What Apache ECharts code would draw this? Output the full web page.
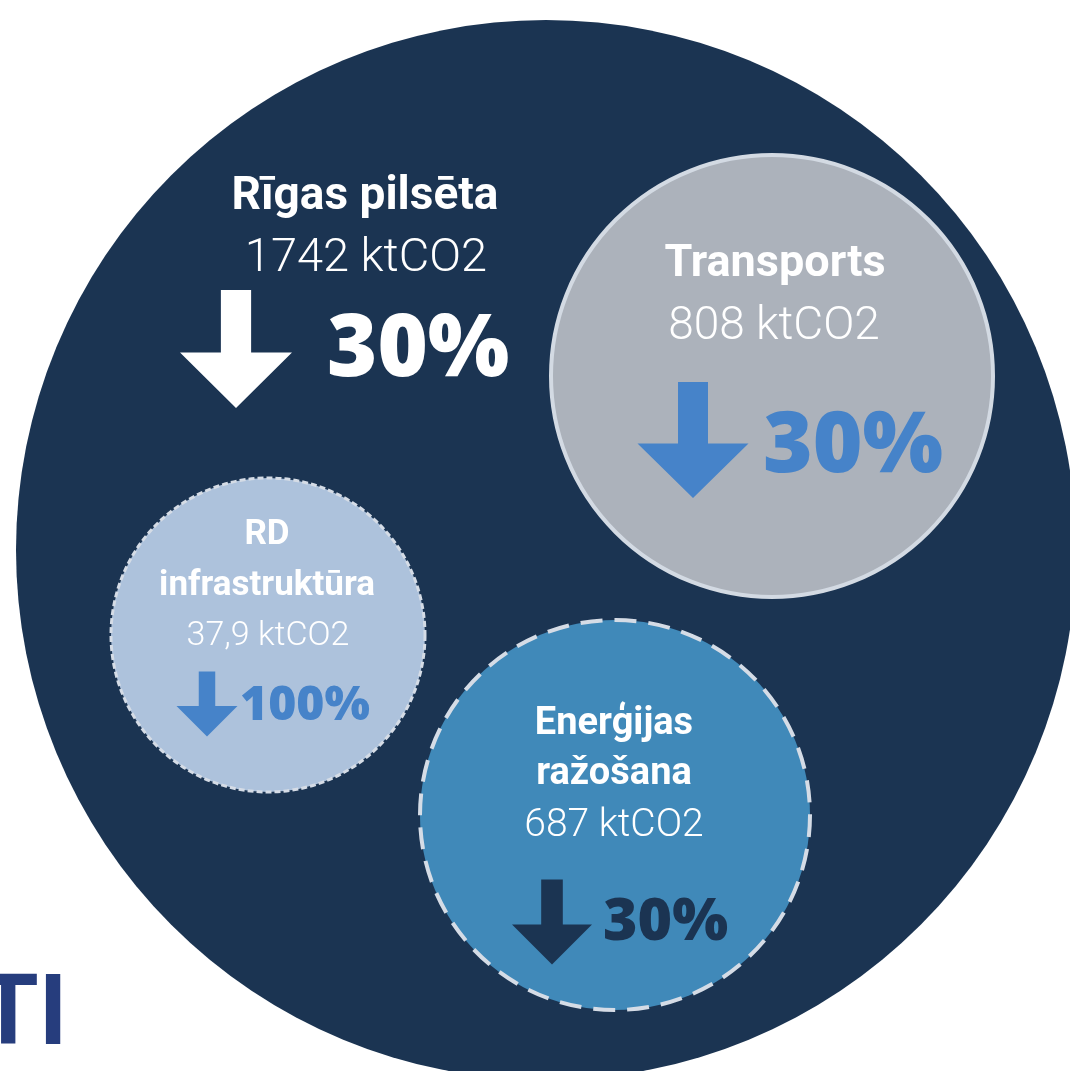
<!DOCTYPE html>
<html>
<head>
<meta charset="utf-8">
<script src="https://cdn.jsdelivr.net/npm/echarts@6/dist/echarts.min.js"></script>
<style>
    html, body { margin: 0; padding: 0; background: #ffffff; }
    #main { width: 1070px; height: 1071px; }
</style>
</head>
<body>
<div id="main"></div>
<script>
// dati
var sectors = ['Rīgas pilsēta', 'Transports', 'RD\ninfrastruktūra', 'Enerģijas\nražošana']
var emissions = [1742, 808, 37.9, 687]
var reductions = [30, 30, 100, 30]
var unit = 'ktCO2'

// izkārtojums (pikseļi uz 1070 x 1071 audekla)
var centers = [[546, 550], [772, 376], [268, 635], [615, 815]]
var radii = [530, 221, 157, 195]
var fills = ['#1b3452', '#acb2bb', '#adc2dc', '#4089b9']
var borders = [null, '#d3dae3', '#d5dce6', '#d5dce6']
var borderTypes = ['solid', 'solid', [6, 3], [22, 12]]
var borderWidths = [0, 4, 3, 4]
var accents = ['#ffffff', '#4683c9', '#4683c9', '#1b3452']
// [x, y, fontSize, lineHeight]
var titlePos = [[365, 197, 46, 50], [775, 265, 45, 50], [267, 561, 35, 51], [614, 749, 38, 50]]
var valuePos = [[366, 259, 47], [774, 327, 46], [268, 636, 34], [614, 826, 39]]
var pctPos = [[327, 351, 86], [763, 448, 85], [240, 706, 48], [603, 923, 59]]
// [x, y, w, h]
var arrowPos = [[236, 349, 112, 118], [693, 440, 111, 116], [207, 704, 61, 65], [552, 922, 80, 85]]

var arrowPath = 'path://M36.5,0 L63.5,0 L63.5,53 L100,53 L50,100 L0,53 L36.5,53 Z'

function fmt (v) {
    return String(v).replace('.', ',') + ' ' + unit
}

var circleData = centers.map(function (c, i) {
    return {
        value: c,
        symbolSize: radii[i] * 2,
        itemStyle: {
            color: fills[i],
            opacity: 1,
            borderColor: borders[i] || 'transparent',
            borderWidth: borderWidths[i],
            borderType: borderTypes[i]
        }
    }
})

var arrowData = arrowPos.map(function (a, i) {
    return {
        value: [a[0], a[1]],
        symbolSize: [a[2], a[3]],
        itemStyle: { color: accents[i], opacity: 1 }
    }
})

var textData = []
sectors.forEach(function (name, i) {
    textData.push({
        value: [titlePos[i][0], titlePos[i][1]],
        label: {
            formatter: name,
            fontFamily: 'Roboto',
            fontWeight: 700,
            fontSize: titlePos[i][2],
            lineHeight: titlePos[i][3],
            color: '#ffffff',
            align: 'center'
        }
    })
    textData.push({
        value: [valuePos[i][0], valuePos[i][1]],
        label: {
            formatter: fmt(emissions[i]),
            fontFamily: 'Roboto',
            fontWeight: 300,
            fontSize: valuePos[i][2],
            color: '#ffffff',
            align: 'center'
        }
    })
    textData.push({
        value: [pctPos[i][0], pctPos[i][1]],
        label: {
            formatter: reductions[i] + '%',
            fontFamily: 'Open Sans',
            fontWeight: 800,
            fontSize: pctPos[i][2],
            color: accents[i],
            align: 'left'
        }
    })
})

var myChart = echarts.init(document.getElementById('main'))
myChart.setOption({
    animation: false,
    backgroundColor: '#ffffff',
    grid: { left: 0, right: 0, top: 0, bottom: 0 },
    xAxis: { type: 'value', min: 0, max: 1070, show: false },
    yAxis: { type: 'value', min: 0, max: 1071, inverse: true, show: false },
    graphic: [{
        type: 'text',
        left: -22,
        top: 970,
        z: 100,
        style: {
            text: 'TI',
            font: 'bold 98px Roboto',
            fill: '#263d7d'
        }
    }],
    series: [
        {
            type: 'scatter',
            symbol: 'circle',
            clip: false,
            silent: true,
            z: 1,
            data: circleData
        },
        {
            type: 'scatter',
            symbol: arrowPath,
            symbolKeepAspect: false,
            clip: false,
            silent: true,
            z: 2,
            data: arrowData
        },
        {
            type: 'scatter',
            symbolSize: 1,
            clip: false,
            silent: true,
            z: 3,
            itemStyle: { color: 'transparent', opacity: 1 },
            label: {
                show: true,
                position: 'inside',
                verticalAlign: 'middle'
            },
            data: textData
        }
    ]
})
window.onresize = myChart.resize
</script>
</body>
</html>
